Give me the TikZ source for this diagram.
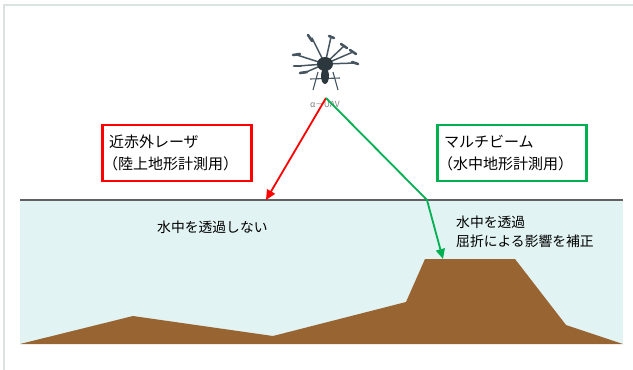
\documentclass[tikz,border=0pt]{standalone}
\usepackage{fontspec}
\setmainfont{Noto Sans CJK JP}
\usetikzlibrary{arrows.meta}
\definecolor{waterfill}{RGB}{226,243,243}
\definecolor{ground}{RGB}{151,100,50}
\definecolor{surface}{RGB}{96,96,96}
\definecolor{laserred}{RGB}{255,0,0}
\definecolor{beamgreen}{RGB}{0,176,80}
\definecolor{frame}{RGB}{218,226,226}
\definecolor{dronebody}{RGB}{45,55,62}
\definecolor{dronearm}{RGB}{70,85,95}
\newcommand{\openparen}{\hspace{-0.4em}（}
\tikzset{
  labelbox/.style={draw=#1, line width=2.2pt, minimum width=149pt, minimum height=56pt,
    align=left, font=\fontsize{15pt}{22pt}\selectfont, text width=136pt, inner sep=0pt},
  ray/.style={draw=#1, line width=1.8pt, -{Triangle[length=10pt,width=9pt]}},
  note/.style={anchor=west, font=\fontsize{13.8pt}{19pt}\selectfont, align=left, inner sep=0pt},
  arm/.style={dronearm, line width=1.5pt, line cap=round},
  rotor/.style={dronearm, line width=2.6pt, line cap=round},
}
\begin{document}
\begin{tikzpicture}[x=1pt,y=-1pt]
\useasboundingbox (0,0) rectangle (633,370);
% outer frame lines
\draw[frame, line width=1.6pt] (4,370) -- (4,5) -- (633,5);
% water body
\fill[waterfill] (20,200) rectangle (623,344);
% ground profile
\fill[ground] (20,344) -- (133,316) -- (273,336) -- (406,302) -- (425,259)
  -- (515,259) -- (566,325) -- (623,344) -- cycle;
% water surface
\draw[surface, line width=2pt] (20,200) -- (623,200);

% octocopter
\coordinate (hub) at (325,64);
\foreach \tx/\ty in {312/38, 331/37, 344/46, 353/52, 355/63, 297/55, 298/66, 304/73}{
  \draw[arm] (hub) -- (\tx,\ty);
}
\draw[rotor] (308,35) -- (312,41);
\draw[rotor] (329,36) -- (334,38);
\draw[rotor] (341,44) -- (347,48);
\draw[rotor] (350,50) -- (356,54);
\draw[rotor] (352,62) -- (358,64);
\draw[rotor] (293,55) -- (300,54);
\draw[rotor] (294,66) -- (301,66);
\draw[rotor] (300,73) -- (307,72);
\draw[dronearm, line width=1.1pt] (318,72) -- (313,90);
\draw[dronearm, line width=1.1pt] (333,72) -- (338,90);
\draw[dronearm, line width=1.1pt] (310,79) -- (340,78);
\fill[dronebody] (hub) ellipse (8pt and 7pt);
\fill[dronebody] (325,76) ellipse (4pt and 8pt);
\node[text=gray, font=\fontsize{8.5pt}{10pt}\selectfont, inner sep=0pt] (uav) at (325,104) {α－UAV};
\coordinate (src) at (326,98);

% description boxes
\node[labelbox=laserred] (nir) at (177,153) {近赤外レーザ\\\openparen 陸上地形計測用）};
\node[labelbox=beamgreen] (mb) at (512,153) {マルチビーム\\\openparen 水中地形計測用）};

% rays
\coordinate (hitland) at (266,200);
\coordinate (refr) at (427,200);
\coordinate (hitbed) at (443,259);
\draw[ray=laserred] (src) -- (hitland);
\draw[ray=beamgreen] (src) -- (refr) -- (hitbed);

% notes in the water
\node[note] (opaque) at (157,227) {水中を透過しない};
\node[note] (thru) at (456,232) {水中を透過\\屈折による影響を補正};
\end{tikzpicture}
\end{document}
